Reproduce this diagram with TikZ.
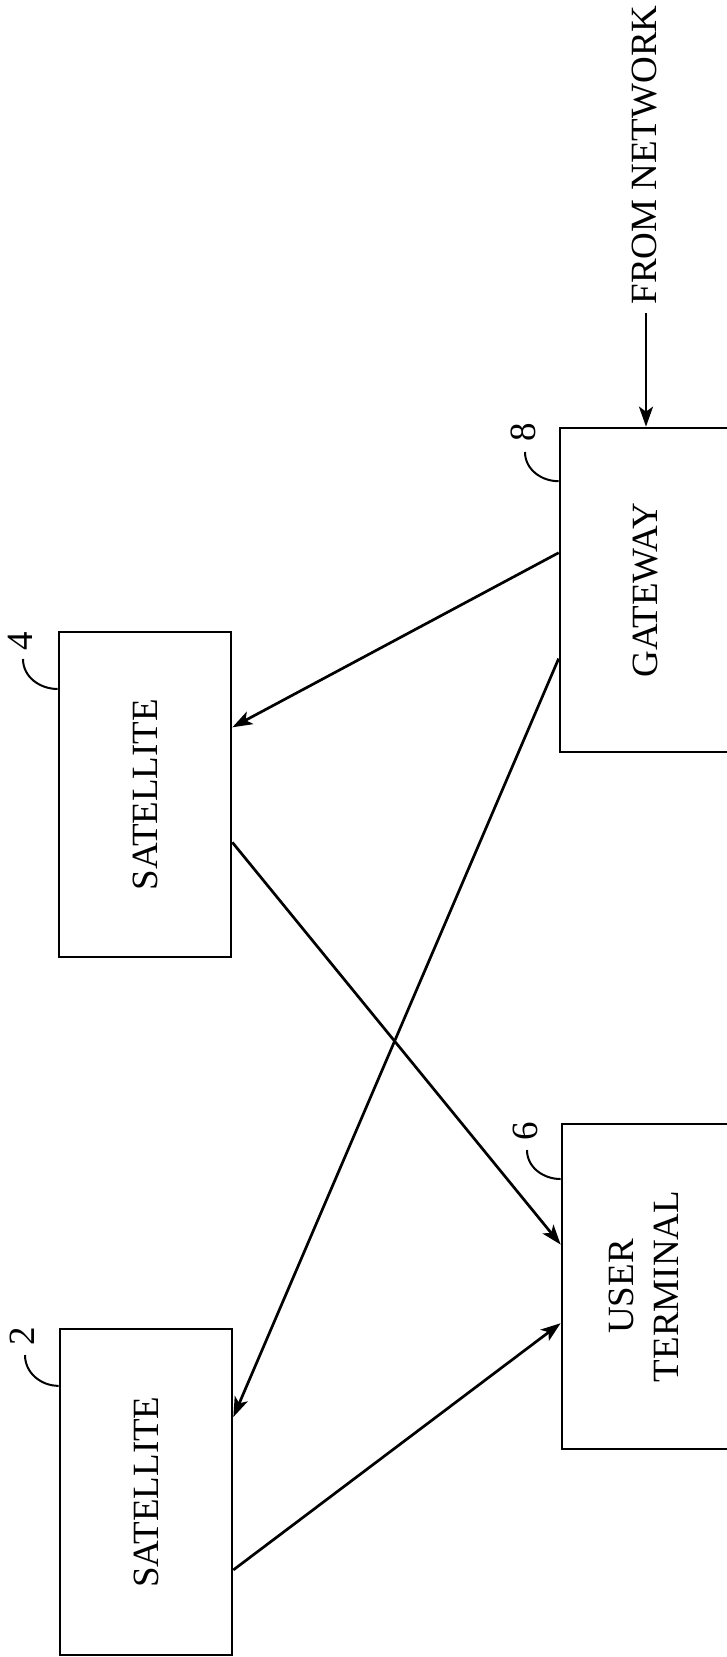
\documentclass[tikz,border=0pt]{standalone}
\usepackage{fontspec}
\setmainfont{Liberation Serif}
\usetikzlibrary{arrows.meta,calc}
\begin{document}
\begin{tikzpicture}[x=1pt,y=-1pt,
  box/.style={draw,line width=2.7pt,rectangle,inner sep=0pt,minimum width=172pt,minimum height=325pt,
    font=\fontsize{37}{39}\selectfont,align=center},
  lbl/.style={rotate=90,font=\fontsize{37}{39}\selectfont,inner sep=0pt},
  num/.style={rotate=90,font=\fontsize{37}{39}\selectfont,inner sep=0pt},
  link/.style={line width=2.7pt,-{Stealth[length=20pt,width=14pt,inset=5pt]}},
  lead/.style={line width=2pt}]
\useasboundingbox (0,0) rectangle (727,1657);
% boxes
\node[box] (sat4) at (145,794.5) {\rotatebox{90}{SATELLITE}};
\node[box,minimum height=326pt] (sat2) at (146,1492) {\rotatebox{90}{SATELLITE}};
\node[box,minimum height=324pt] (gw) at (646,590) {\rotatebox{90}{GATEWAY}};
\node[box] (ut) at (648,1286.5) {\rotatebox{90}{\begin{tabular}{c}USER\\[6pt]TERMINAL\end{tabular}}};
% from network
\node[lbl] (fromnet) at (645,155) {FROM NETWORK};
\coordinate (netsrc) at (646,313);
\draw[link] (netsrc) -- (gw.north);
% links
\draw[link] ($(gw.north west)!0.386!(gw.south west)$) -- ($(sat4.north east)!0.295!(sat4.south east)$);
\draw[link] ($(gw.north west)!0.71!(gw.south west)$) -- ($(sat2.north east)!0.272!(sat2.south east)$);
\draw[link] ($(sat4.north east)!0.646!(sat4.south east)$) -- ($(ut.north west)!0.372!(ut.south west)$);
\draw[link] ($(sat2.north east)!0.737!(sat2.south east)$) -- ($(ut.north west)!0.612!(ut.south west)$);
% reference numerals
\node[num] (n8) at (523,432) {8};
\coordinate (l8) at (525,452);
\draw[lead] (l8) to[out=-90,in=180] ($(gw.north west)!0.167!(gw.south west)$);
\node[num] (n6) at (525,1131) {6};
\coordinate (l6) at (527,1150);
\draw[lead] (l6) to[out=-90,in=180] ($(ut.north west)!0.172!(ut.south west)$);
\node[num] (n4) at (20,641) {4};
\coordinate (l4) at (23,659);
\draw[lead] (l4) to[out=-90,in=180] ($(sat4.north west)!0.178!(sat4.south west)$);
\node[num] (n2) at (22,1336) {2};
\coordinate (l2) at (25,1355);
\draw[lead] (l2) to[out=-90,in=180] ($(sat2.north west)!0.177!(sat2.south west)$);
\end{tikzpicture}
\end{document}
